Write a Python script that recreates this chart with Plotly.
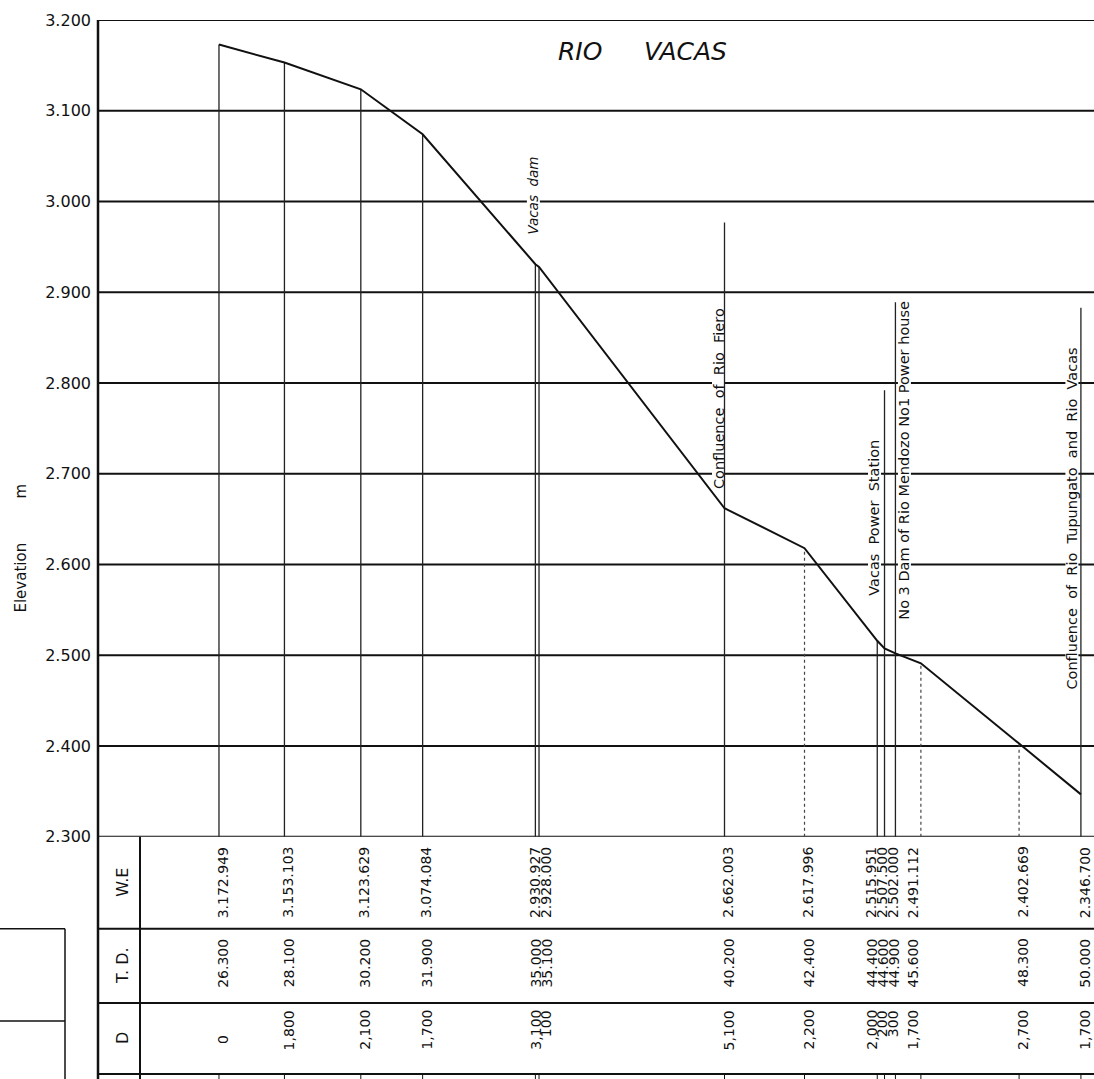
import plotly.graph_objects as go

# ---------------- data ----------------
td_km = [26.3, 28.1, 30.2, 31.9, 35.0, 35.1, 40.2, 42.4, 44.4, 44.6, 44.9, 45.6, 48.3, 50.0]
we_m = [3172.949, 3153.103, 3123.629, 3074.084, 2930.927, 2928.000, 2662.003,
        2617.996, 2515.951, 2507.500, 2502.000, 2491.112, 2402.669, 2346.700]
d_m = [0, 1800, 2100, 1700, 3100, 100, 5100, 2200, 2000, 200, 300, 1700, 2700, 1700]

elev_ticks = [2300, 2400, 2500, 2600, 2700, 2800, 2900, 3000, 3100, 3200]
elev_tick_text = ["2.300", "2.400", "2.500", "2.600", "2.700", "2.800", "2.900", "3.000", "3.100", "3.200"]

feature_names = ["Vacas\u00a0\u00a0dam",
                 "Confluence\u00a0\u00a0of\u00a0\u00a0Rio\u00a0\u00a0Fiero",
                 "Vacas\u00a0\u00a0Power\u00a0\u00a0Station",
                 "No\u00a03 Dam of Rio Mendozo No1 Power house",
                 "Confluence\u00a0\u00a0of\u00a0\u00a0Rio\u00a0\u00a0Tupungato\u00a0\u00a0and\u00a0\u00a0Rio\u00a0\u00a0Vacas"]
feature_td = [35.0, 40.2, 44.6, 44.9, 50.0]
feature_line_top = [2930.927, 2977, 2792, 2889, 2883]

dotted_td = [42.4, 45.6, 48.3]

# ---------------- layout geometry ----------------
# the viewport used for the photograph is a little taller than the picture,
# so vertical design positions (measured on the reference) are stretched by SY
W, H = 1094, 1090
SY = H / 1079.0
ML = 97
PW = W - ML
X0, X1 = 22.946, 50.36
INK = "#111111"
FONT = "DejaVu Sans"


def Y(ref):
    return ref * SY


MT = Y(20)
PH = H - MT
TABLE_TOP = 836
ROW1, ROW2, ROW3 = 928, 1002, 1073


def px(xpx):
    return (xpx - ML) / PW


def py(ref):
    return (H - Y(ref)) / PH


def km_px(km):
    return ML + (km - X0) / (X1 - X0) * PW


ELEV_PER_PX = (3200 - 2300) / (Y(TABLE_TOP) - Y(20))

fig = go.Figure()

# station verticals (from table top up to the profile, or to a feature mark)
tops = list(we_m)
for s, t in zip(feature_td, feature_line_top):
    tops[td_km.index(s)] = max(t, we_m[td_km.index(s)])

sx, sy, dx, dy = [], [], [], []
for s, t in zip(td_km, tops):
    if s in dotted_td:
        dx += [s, s, None]
        dy += [2300, t, None]
    else:
        sx += [s, s, None]
        sy += [2300, t, None]

fig.add_trace(go.Scatter(x=sx, y=sy, mode="lines", line=dict(color="#222222", width=1.3),
                         hoverinfo="skip", showlegend=False))
fig.add_trace(go.Scatter(x=dx, y=dy, mode="lines", line=dict(color="#444444", width=1.2, dash="dot"),
                         hoverinfo="skip", showlegend=False))
# water-surface profile
fig.add_trace(go.Scatter(x=td_km, y=we_m, mode="lines", line=dict(color=INK, width=2),
                         showlegend=False))

shapes = []
# horizontal elevation grid
for e in elev_ticks:
    shapes.append(dict(type="line", xref="paper", yref="y", x0=0, x1=1, y0=e, y1=e,
                       line=dict(color=INK, width=2), layer="below"))
# left frame
shapes.append(dict(type="line", xref="paper", yref="paper", x0=px(98), x1=px(98),
                   y0=py(20), y1=py(1079), line=dict(color=INK, width=2.5)))
# table rows
for r in (ROW1, ROW2, ROW3):
    shapes.append(dict(type="line", xref="paper", yref="paper", x0=px(98), x1=1,
                       y0=py(r), y1=py(r), line=dict(color=INK, width=2)))
# table label column
shapes.append(dict(type="line", xref="paper", yref="paper", x0=px(140), x1=px(140),
                   y0=py(TABLE_TOP), y1=py(1079), line=dict(color=INK, width=2)))
# little box at far left
for r in (928, 1020):
    shapes.append(dict(type="line", xref="paper", yref="paper", x0=px(0), x1=px(65),
                       y0=py(r), y1=py(r), line=dict(color=INK, width=1.5)))
shapes.append(dict(type="line", xref="paper", yref="paper", x0=px(65), x1=px(65),
                   y0=py(928), y1=py(1079), line=dict(color=INK, width=1.5)))
# station ticks below table
for s in td_km:
    shapes.append(dict(type="line", xref="x", yref="paper", x0=s, x1=s,
                       y0=py(ROW3), y1=py(1079), line=dict(color=INK, width=1)))

# ---------------- column positions for table text ----------------
GAP = 11
base = [km_px(s) + 4 for s in td_km]
groups = []
for x in base:
    groups.append([x, 1])
    while len(groups) > 1:
        c1, n1 = groups[-2]
        c2, n2 = groups[-1]
        if (c2 - (n2 - 1) * GAP / 2) - (c1 + (n1 - 1) * GAP / 2) < GAP:
            n = n1 + n2
            groups[-2:] = [[(c1 * n1 + c2 * n2) / n, n]]
        else:
            break
col_px = []
for c, n in groups:
    for k in range(n):
        col_px.append(c - (n - 1) * GAP / 2 + k * GAP)
nudge = {44.4: -7, 44.6: -7, 44.9: -7, 45.6: -12}
col_px = [p + nudge.get(s, 0) for p, s in zip(col_px, td_km)]

annotations = []
tfont = dict(family=FONT, size=14, color=INK)


def fmt_we(v):
    return f"{v:,.3f}".replace(",", ".")


def fmt_td(v):
    return f"{int(round(v * 1000)):,}".replace(",", ".")


def fmt_d(v):
    return f"{v:,}"


for s, w, d, cx in zip(td_km, we_m, d_m, col_px):
    annotations.append(dict(text=fmt_we(w), x=px(cx), y=py(918), xref="paper", yref="paper",
                            xanchor="center", yanchor="bottom", textangle=-90, showarrow=False,
                            font=tfont, borderpad=0))
    annotations.append(dict(text=fmt_td(s), x=px(cx), y=py(962), xref="paper", yref="paper",
                            xanchor="center", yanchor="middle", textangle=-90, showarrow=False,
                            font=tfont, borderpad=0))
    if d == 0:
        annotations.append(dict(text=fmt_d(d), x=px(cx), y=py(1038), xref="paper", yref="paper",
                                xanchor="center", yanchor="middle", textangle=-90, showarrow=False,
                                font=tfont, borderpad=0))
    else:
        annotations.append(dict(text=fmt_d(d), x=px(cx), y=py(1008), xref="paper", yref="paper",
                                xanchor="center", yanchor="top", textangle=-90, showarrow=False,
                                font=tfont, borderpad=0))

# row labels
for lab, yc in (("W.E", 882), ("T.\u00a0D.", 965), ("D", 1037)):
    annotations.append(dict(text=lab, x=px(123), y=py(yc), xref="paper", yref="paper",
                            xanchor="center", yanchor="middle", textangle=-90, showarrow=False,
                            font=dict(family=FONT, size=16, color=INK)))


def text_len_px(t, size):
    w = 0.0
    for ch in t:
        if ch in " \u00a0":
            w += 0.318
        elif ch in "il":
            w += 0.278
        elif ch in "ftr":
            w += 0.40
        elif ch in "mwMW":
            w += 0.90
        elif ch.isupper():
            w += 0.70
        else:
            w += 0.615
    return w * size


# feature labels (placement: xshift px, bottom elevation, italic)
feature_place = [(-2, 2963, True), (-6, 2682, False), (-10, 2564, False), (9, 2538, False), (-9, 2461, False)]
for name, s, (xs, yb, ital) in zip(feature_names, feature_td, feature_place):
    size = 13.5 if ital else 14.5
    txt = f"<i>{name}</i>" if ital else name
    annotations.append(dict(text=txt, x=s, y=yb, xref="x", yref="y", xshift=xs,
                            xanchor="center", yanchor="bottom", textangle=-90, showarrow=False,
                            borderpad=0, font=dict(family=FONT, size=size, color=INK)))
    # white strip interrupting the grid lines behind the lettering (below the traces)
    top = yb + (text_len_px(name, size) + 4) * ELEV_PER_PX
    shapes.append(dict(type="rect", xref="x", yref="y", xsizemode="pixel", xanchor=s,
                       x0=xs - 6.5, x1=xs + 6.5, y0=yb - 2 * ELEV_PER_PX, y1=top,
                       fillcolor="white", line=dict(width=0), layer="below"))

# title
annotations.append(dict(text="<i>RIO</i>", x=px(580), y=py(51), xref="paper", yref="paper",
                        xanchor="center", yanchor="middle", showarrow=False,
                        font=dict(family=FONT, size=25, color=INK)))
annotations.append(dict(text="<i>VACAS</i>", x=px(685), y=py(51), xref="paper", yref="paper",
                        xanchor="center", yanchor="middle", showarrow=False,
                        font=dict(family=FONT, size=25, color=INK)))

# axis title
annotations.append(dict(text="Elevation", x=px(21), y=py(577), xref="paper", yref="paper",
                        xanchor="center", yanchor="middle", textangle=-90, showarrow=False,
                        font=dict(family=FONT, size=15, color=INK)))
annotations.append(dict(text="m", x=px(21), y=py(491), xref="paper", yref="paper",
                        xanchor="center", yanchor="middle", textangle=-90, showarrow=False,
                        font=dict(family=FONT, size=15, color=INK)))

fig.update_layout(
    width=W, height=H,
    margin=dict(l=ML, r=0, t=MT, b=0, pad=0),
    paper_bgcolor="white", plot_bgcolor="white",
    xaxis=dict(range=[X0, X1], visible=False, fixedrange=True),
    yaxis=dict(range=[2300, 3200], domain=[py(TABLE_TOP), 1], tickvals=elev_ticks,
               ticktext=elev_tick_text, showgrid=False, zeroline=False, showline=False,
               ticks="", ticklabelstandoff=5, tickfont=dict(family=FONT, size=16, color=INK),
               fixedrange=True),
    shapes=shapes,
    annotations=annotations,
    showlegend=False,
)

fig.write_html(
    "out.html",
    config={"displayModeBar": False},
    post_script="document.body.style.margin='0px';document.body.style.overflow='hidden';",
)
